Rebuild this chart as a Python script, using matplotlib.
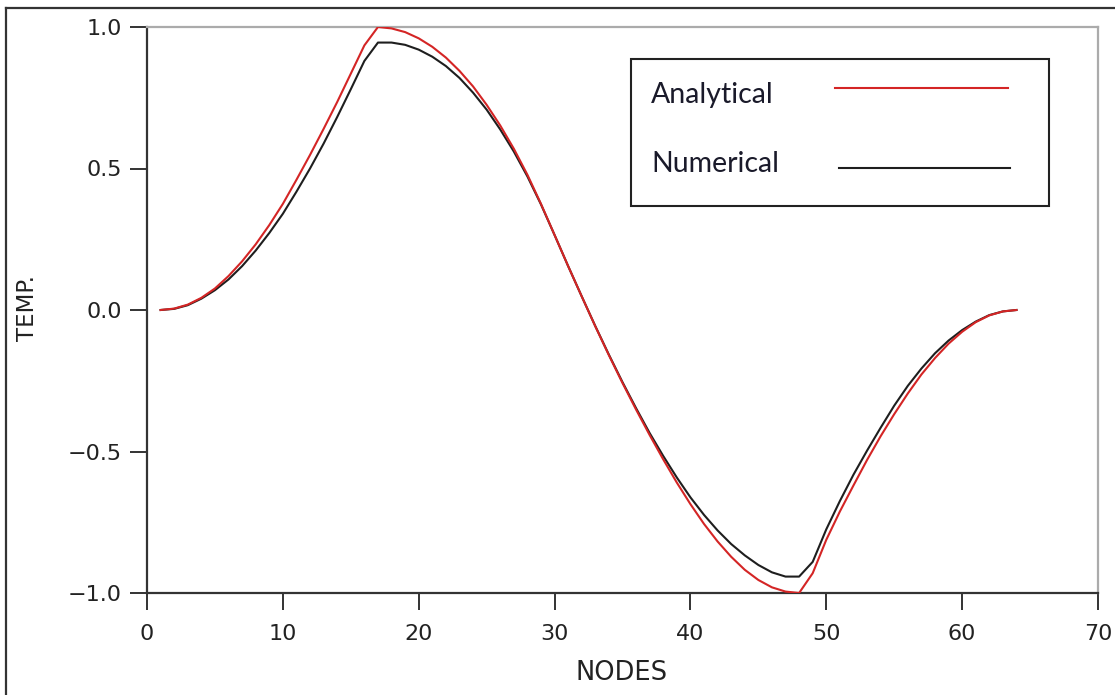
import matplotlib
matplotlib.use("Agg")
import matplotlib.pyplot as plt
from matplotlib.lines import Line2D
from matplotlib.patches import Rectangle

plt.rcParams["font.family"] = ["DejaVu Sans"]

# ---------------- data ----------------
nodes = list(range(1, 65))

analytical = [
    0.000, 0.005, 0.019, 0.043, 0.076, 0.120, 0.172, 0.232, 0.300, 0.375,
    0.460, 0.548, 0.640, 0.735, 0.835, 0.935, 1.000, 0.995, 0.982, 0.960,
    0.930, 0.892, 0.845, 0.790, 0.725, 0.652, 0.570, 0.478, 0.375, 0.265,
    0.155, 0.048, -0.058, -0.160, -0.258, -0.352, -0.442, -0.528, -0.610, -0.686,
    -0.756, -0.818, -0.872, -0.918, -0.954, -0.980, -0.995, -1.000, -0.930, -0.812,
    -0.712, -0.620, -0.530, -0.446, -0.368, -0.295, -0.228, -0.170, -0.119, -0.077,
    -0.043, -0.019, -0.005, 0.000,
]

numerical = [
    0.000, 0.004, 0.017, 0.040, 0.070, 0.108, 0.155, 0.210, 0.272, 0.340,
    0.418, 0.500, 0.588, 0.682, 0.780, 0.880, 0.945, 0.945, 0.937, 0.920,
    0.895, 0.862, 0.820, 0.768, 0.708, 0.638, 0.560, 0.472, 0.373, 0.265,
    0.155, 0.048, -0.057, -0.158, -0.255, -0.347, -0.435, -0.516, -0.592, -0.662,
    -0.724, -0.779, -0.827, -0.867, -0.901, -0.927, -0.942, -0.942, -0.890, -0.775,
    -0.675, -0.582, -0.497, -0.416, -0.338, -0.268, -0.207, -0.153, -0.108, -0.071,
    -0.041, -0.018, -0.005, 0.000,
]

series_labels = ["Analytical", "Numerical"]
series_colors = ["#d42525", "#1e1e1e"]

x_ticks = [0, 10, 20, 30, 40, 50, 60, 70]
y_ticks = [-1.0, -0.5, 0.0, 0.5, 1.0]
y_tick_labels = ["\u22121.0", "\u22120.5", "0.0", "0.5", "1.0"]
x_label = "NODES"
y_label = "TEMP."

# ---------------- figure ----------------
W, H = 1115, 695
fig = plt.figure(figsize=(W / 100, H / 100), dpi=100)
fig.patch.set_facecolor("white")

# outer document frame (top and left edges visible in the reference)
fig.add_artist(Line2D([6 / W, 6 / W], [0, 1 - 8 / H], transform=fig.transFigure,
                      color="#333333", lw=1.6))
fig.add_artist(Line2D([6 / W, 1], [1 - 8 / H, 1 - 8 / H], transform=fig.transFigure,
                      color="#333333", lw=1.6))

left, right, top, bottom = 147, 1098, 27, 593
ax = fig.add_axes([left / W, 1 - bottom / H, (right - left) / W, (bottom - top) / H])

ax.plot(nodes, analytical, color=series_colors[0], lw=1.5, zorder=3)
ax.plot(nodes, numerical, color=series_colors[1], lw=1.5, zorder=2)

ax.set_xlim(0, 70)
ax.set_ylim(-1, 1)
ax.set_xticks(x_ticks)
ax.set_xticklabels([str(t) for t in x_ticks])
ax.set_yticks(y_ticks)
ax.set_yticklabels(y_tick_labels)

for s in ["left", "bottom"]:
    ax.spines[s].set_color("#333333")
    ax.spines[s].set_linewidth(1.6)
for s in ["top", "right"]:
    ax.spines[s].set_color("#ababab")
    ax.spines[s].set_linewidth(1.6)

ax.tick_params(axis="both", direction="out", length=12, width=1.4,
               colors="#333333", labelcolor="#222222", labelsize=16)
ax.tick_params(axis="x", pad=10)
ax.tick_params(axis="y", pad=6)

ax.set_xlabel(x_label, fontsize=18.5, color="#222222")
ax.set_ylabel(y_label, fontsize=16.5, color="#222222")
ax.xaxis.set_label_coords((622 - left) / (right - left), 1 - (673 - top) / (bottom - top))
ax.yaxis.set_label_coords((28 - left) / (right - left), 1 - (308 - top) / (bottom - top))
ax.xaxis.label.set_va("center")
ax.yaxis.label.set_va("center")

# ---------------- legend box (text left, line sample right) ----------------
def ax_xy(px, py):
    return (px - left) / (right - left), 1 - (py - top) / (bottom - top)

bx0, by0 = ax_xy(631, 206)
bx1, by1 = ax_xy(1049, 59)
ax.add_patch(Rectangle((bx0, by0), bx1 - bx0, by1 - by0, transform=ax.transAxes,
                       facecolor="white", edgecolor="#222222", lw=1.5, zorder=5))

legend_rows = [(95, 88, 835, 1008), (164, 168, 839, 1010)]
for lab, col, (ty, ly, lx0, lx1) in zip(series_labels, series_colors, legend_rows):
    tx, tyy = ax_xy(651, ty)
    ax.text(tx, tyy, lab, transform=ax.transAxes, ha="left", va="center",
            fontsize=20.5, family=["Lato", "DejaVu Sans"], color="#1a1a2a", zorder=6)
    x0, yy = ax_xy(lx0, ly)
    x1, _ = ax_xy(lx1, ly)
    ax.add_line(Line2D([x0, x1], [yy, yy], transform=ax.transAxes, color=col,
                       lw=1.5, zorder=6))

fig.savefig("out.png", dpi=100, facecolor="white")
